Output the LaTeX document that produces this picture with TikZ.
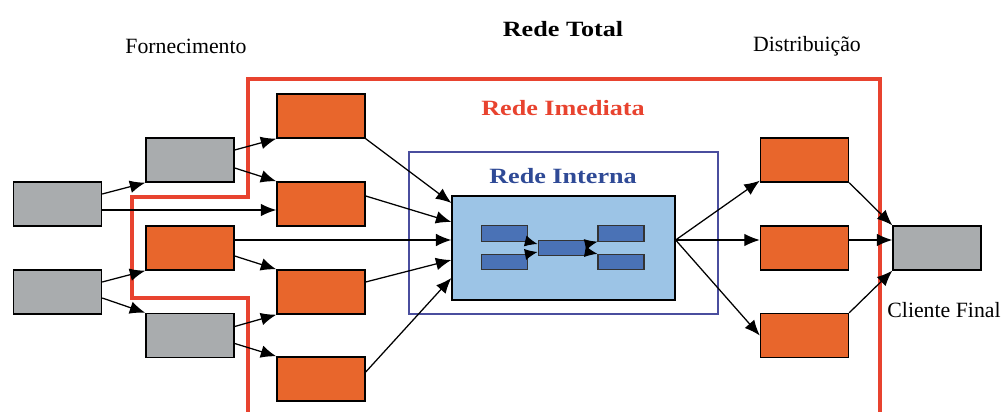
\documentclass[tikz,border=0pt]{standalone}
\usepackage{fontspec}
\setmainfont{Liberation Serif}
\newfontfamily\titlefont[FakeStretch=1.2]{Liberation Serif}
\usetikzlibrary{arrows.meta,calc}
\definecolor{boxorange}{HTML}{E8662C}
\definecolor{boxgray}{HTML}{A9ACAE}
\definecolor{innerblue}{HTML}{9CC4E6}
\definecolor{cellblue}{HTML}{4A72B6}
\definecolor{frameblue}{HTML}{4A4E9E}
\definecolor{netred}{HTML}{E8432F}
\definecolor{textblue}{HTML}{2F4A96}
\tikzset{
  unitbox/.style={draw=black, line width=1pt, minimum width=2.2cm, minimum height=1.1cm, inner sep=0pt},
  supplier/.style={unitbox, fill=boxgray},
  partner/.style={unitbox, fill=boxorange},
  cell/.style={draw=black!80, line width=0.8pt, fill=cellblue, minimum width=1.15cm, minimum height=0.38cm, inner sep=0pt},
  flow/.style={-{Latex[length=11pt,width=9pt]}, line width=0.9pt, black},
  cellflow/.style={-{Latex[length=9pt,width=8pt]}, line width=0.7pt, black},
  label/.style={font=\fontsize{15.5}{18}\selectfont, inner sep=0pt},
  title/.style={font=\titlefont\bfseries\fontsize{15.5}{18}\selectfont, inner sep=0pt}
}
\begin{document}
\begin{tikzpicture}[x=0.025cm, y=-0.025cm]
\useasboundingbox (0,0) rectangle (1006,412);

% network boundary
\draw[netred, line width=3pt, line join=miter]
  (248,430) -- (248,298) -- (132,298) -- (132,197) -- (248,197)
  -- (248,79) -- (880,79) -- (880,430);

% internal network frame and core
\node[draw=frameblue, line width=2pt, minimum width=7.72cm, minimum height=4.05cm, inner sep=0pt] (interna) at (563.5,233) {};
\node[draw=black, line width=1pt, fill=innerblue, minimum width=5.57cm, minimum height=2.6cm, inner sep=0pt] (core) at (563.5,248) {};

% core cells
\node[cell] (c1) at (504.5,233.5) {};
\node[cell] (c2) at (504.5,262) {};
\node[cell, minimum width=1.22cm] (c3) at (562.5,248) {};
\node[cell] (c4) at (621,233.5) {};
\node[cell] (c5) at (621,262) {};

% first tier of suppliers
\node[supplier] (g1) at (57.5,204) {};
\node[supplier] (g2) at (57.5,292) {};
% second tier
\node[supplier] (g3) at (190,160) {};
\node[partner]  (oa) at (190,248) {};
\node[supplier] (g4) at (190,335.5) {};
% immediate suppliers
\node[partner] (o1) at (321,116) {};
\node[partner] (o2) at (321,204) {};
\node[partner] (o3) at (321,292) {};
\node[partner] (o4) at (321,379) {};
% distribution
\node[partner] (r1) at (804.5,160) {};
\node[partner] (r2) at (804.5,248) {};
\node[partner] (r3) at (804.5,335.5) {};
% final customer
\node[supplier] (fc) at (937,248) {};

% texts
\node[label] (tforn) at (186,46) {Fornecimento};
\node[title] (ttotal) at (563,29) {Rede Total};
\node[label] (tdist) at (807,46) {Distribuição};
\node[title, text=netred] (timed) at (563,108) {Rede Imediata};
\node[title, text=textblue] (tint) at (563,176) {Rede Interna};
\node[label] (tcli) at (944,310) {Cliente Final};

% supplier flows
\draw[flow] ($(g1.east)+(0,-10)$) -- (g3.south west);
\draw[flow] ($(g1.east)+(0,6)$) -- ($(o2.west)+(0,6)$);
\draw[flow] ($(g2.east)+(0,-10)$) -- (oa.south west);
\draw[flow] ($(g2.east)+(0,6)$) -- (g4.north west);
\draw[flow] ($(g3.east)+(0,-10)$) -- (o1.south west);
\draw[flow] ($(g3.east)+(0,8)$) -- (o2.north west);
\draw[flow] ($(oa.east)+(0,8)$) -- (o3.north west);
\draw[flow] ($(g4.east)+(0,-9)$) -- (o3.south west);
\draw[flow] ($(g4.east)+(0,8)$) -- (o4.north west);

% flows into the core
\draw[flow] (o1.south east) -- ($(core.west)+(0,-45)$);
\draw[flow] ($(o2.east)+(0,-8)$) -- ($(core.west)+(0,-26)$);
\draw[flow] ($(oa.east)+(0,-8)$) -- ($(core.west)+(0,-8)$);
\draw[flow] ($(o3.east)+(0,-10)$) -- ($(core.west)+(0,12)$);
\draw[flow] ($(o4.east)+(0,-7)$) -- ($(core.west)+(0,30)$);

% flows inside the core
\draw[cellflow] (c1.south east) -- ($(c3.west)+(0,-4)$);
\draw[cellflow] (c2.north east) -- ($(c3.west)+(0,4)$);
\draw[cellflow] ($(c3.east)+(0,-4)$) -- (c4.south west);
\draw[cellflow] ($(c3.east)+(0,4)$) -- (c5.north west);

% distribution flows
\draw[flow] ($(core.east)+(0,-8)$) -- ($(r1.south west)+(0,-2)$);
\draw[flow] ($(core.east)+(0,-8)$) -- ($(r2.west)+(0,-8)$);
\draw[flow] ($(core.east)+(0,-8)$) -- ($(r3.west)+(0,0)$);
\draw[flow] (r1.south east) -- (fc.north west);
\draw[flow] ($(r2.east)+(0,-8)$) -- ($(fc.west)+(0,-8)$);
\draw[flow] (r3.north east) -- (fc.south west);
\end{tikzpicture}
\end{document}
